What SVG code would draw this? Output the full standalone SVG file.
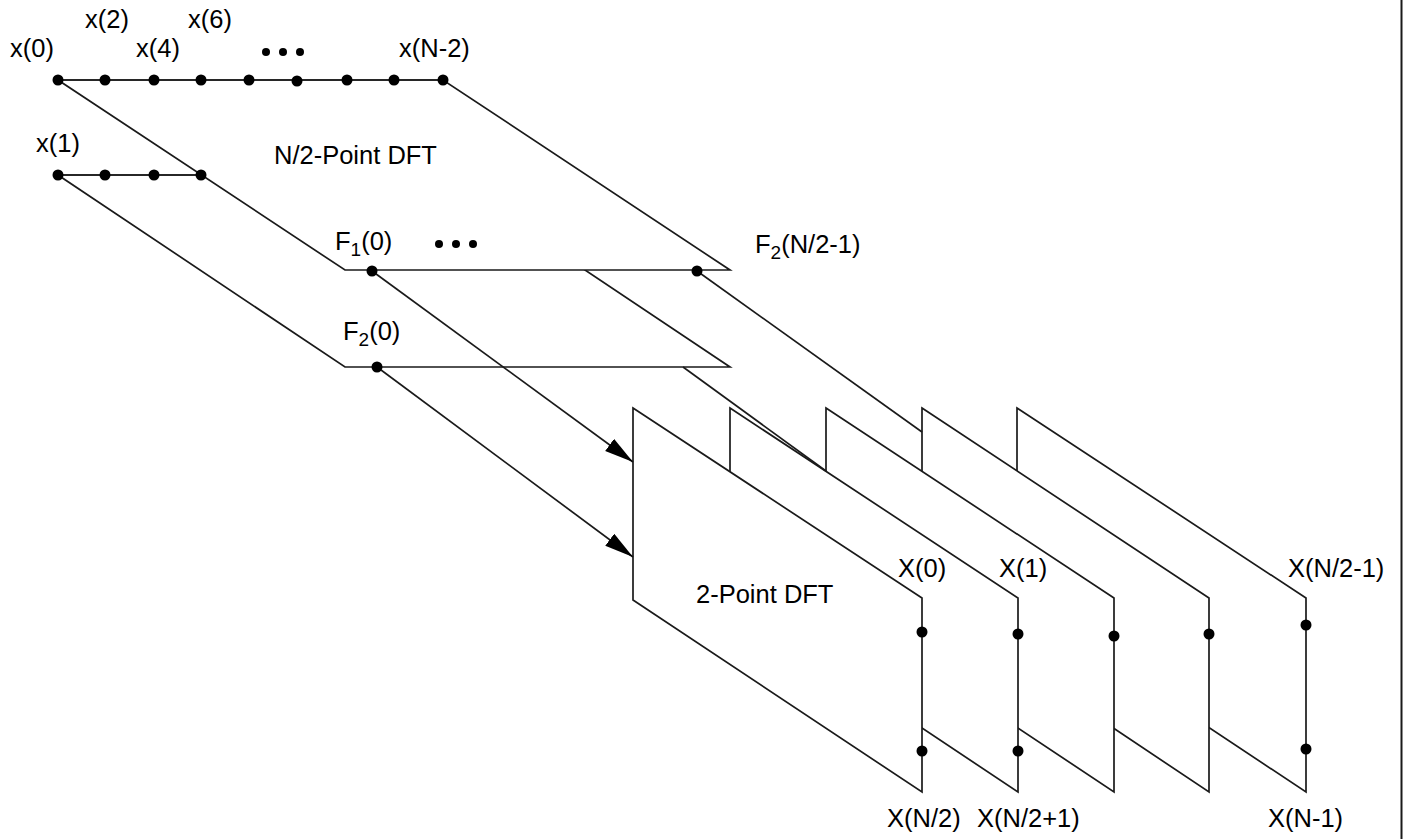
<svg xmlns="http://www.w3.org/2000/svg" width="1405" height="839" viewBox="0 0 1405 839">
<style>
.pl{fill:#fff;stroke:#1a1a1a;stroke-width:1.7;stroke-linejoin:miter}
.ln{fill:none;stroke:#1a1a1a;stroke-width:1.7}
.dot{fill:#000}
.t{font-family:"Liberation Sans",Arial,Helvetica,sans-serif;font-size:25.5px;fill:#000}
.sub{font-size:19px}
</style>
<defs>
<marker id="arr" markerUnits="userSpaceOnUse" markerWidth="31" markerHeight="16" refX="29" refY="7.5" orient="auto">
<path d="M0,0 L29,7.5 L0,15 z" fill="#000"/>
</marker>
</defs>
<rect width="1405" height="839" fill="#fff"/>

<!-- lower N/2-point plane (odd samples) -->
<g id="plane-odd">
<polygon class="pl" points="58,175 443,175 730,367 345,367"/>
</g>
<!-- upper N/2-point plane (even samples) -->
<g id="plane-even">
<polygon class="pl" points="58,80 443,80 730,270 345,270"/>
<text class="t" x="274" y="164">N/2-Point DFT</text>
</g>

<!-- 2-point DFT planes, back to front -->
<g id="dft2-4">
<polygon class="pl" points="1017,408 1306,598 1306,792 1017,600"/>
</g>
<g id="dft2-3">
<polygon class="pl" points="922,408 1209,598 1209,792 922,600"/>
</g>
<g id="dft2-2">
<polygon class="pl" points="826,408 1114,598 1114,792 826,600"/>
</g>
<g id="dft2-1">
<polygon class="pl" points="730,408 1018,598 1018,792 730,600"/>
</g>
<g id="dft2-0">
<polygon class="pl" points="633,408 922,598 922,792 633,600"/>
<text class="t" x="696" y="603">2-Point DFT</text>
</g>

<g id="connectors">
<line class="ln" x1="58" y1="80" x2="443" y2="80"/>
<line class="ln" x1="58" y1="175" x2="202" y2="175"/>
<line class="ln" x1="372" y1="271" x2="633" y2="462" marker-end="url(#arr)"/>
<line class="ln" x1="377" y1="367" x2="633" y2="557" marker-end="url(#arr)"/>
<line class="ln" x1="697" y1="271" x2="922" y2="432"/>
<line class="ln" x1="683" y1="367" x2="826" y2="471"/>
</g>

<g id="input-dots">
<circle class="dot" cx="58" cy="80" r="5.5"/>
<circle class="dot" cx="105" cy="80" r="5.5"/>
<circle class="dot" cx="154" cy="80" r="5.5"/>
<circle class="dot" cx="201" cy="80" r="5.5"/>
<circle class="dot" cx="249" cy="80" r="5.5"/>
<circle class="dot" cx="297" cy="81" r="5.5"/>
<circle class="dot" cx="347" cy="80" r="5.5"/>
<circle class="dot" cx="394" cy="80" r="5.5"/>
<circle class="dot" cx="443" cy="80" r="5.5"/>
<circle class="dot" cx="58" cy="175" r="5.5"/>
<circle class="dot" cx="105" cy="175" r="5.5"/>
<circle class="dot" cx="154" cy="175" r="5.5"/>
<circle class="dot" cx="201" cy="175" r="5.5"/>
<circle class="dot" cx="266" cy="52" r="4"/>
<circle class="dot" cx="283" cy="52" r="4"/>
<circle class="dot" cx="300" cy="52" r="4"/>
<text class="t" x="10" y="57">x(0)</text>
<text class="t" x="85" y="28">x(2)</text>
<text class="t" x="136" y="57">x(4)</text>
<text class="t" x="188" y="28">x(6)</text>
<text class="t" x="399" y="57">x(N-2)</text>
<text class="t" x="36" y="152">x(1)</text>
</g>

<g id="mid-dots">
<circle class="dot" cx="372" cy="271" r="5.5"/>
<circle class="dot" cx="697" cy="271" r="5.5"/>
<circle class="dot" cx="377" cy="367" r="5.5"/>
<circle class="dot" cx="439" cy="244" r="4"/>
<circle class="dot" cx="456" cy="244" r="4"/>
<circle class="dot" cx="473" cy="244" r="4"/>
<text class="t" x="335" y="250">F<tspan class="sub" dy="6">1</tspan><tspan dy="-6">(0)</tspan></text>
<text class="t" x="755" y="253">F<tspan class="sub" dy="6">2</tspan><tspan dy="-6">(N/2-1)</tspan></text>
<text class="t" x="343" y="340">F<tspan class="sub" dy="6">2</tspan><tspan dy="-6">(0)</tspan></text>
</g>

<g id="outputs">
<circle class="dot" cx="922" cy="632" r="5.5"/>
<circle class="dot" cx="922" cy="751" r="5.5"/>
<circle class="dot" cx="1018" cy="634" r="5.5"/>
<circle class="dot" cx="1018" cy="751" r="5.5"/>
<circle class="dot" cx="1114" cy="636" r="5.5"/>
<circle class="dot" cx="1209" cy="634" r="5.5"/>
<circle class="dot" cx="1306" cy="625" r="5.5"/>
<circle class="dot" cx="1306" cy="749" r="5.5"/>
<text class="t" x="898" y="577">X(0)</text>
<text class="t" x="999" y="577">X(1)</text>
<text class="t" x="1288" y="577">X(N/2-1)</text>
<text class="t" x="887" y="827">X(N/2)</text>
<text class="t" x="977" y="827">X(N/2+1)</text>
<text class="t" x="1268" y="827">X(N-1)</text>
</g>

<line class="ln" x1="1401.5" y1="0" x2="1401.5" y2="839" style="stroke-width:2"/>
</svg>
